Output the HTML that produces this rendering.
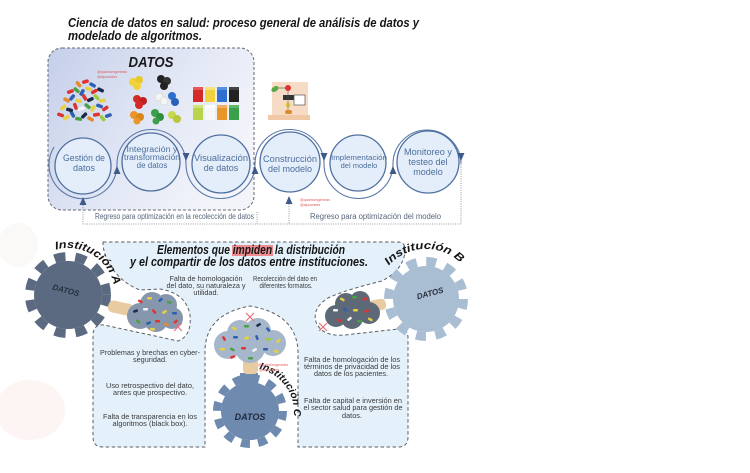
<!DOCTYPE html>
<html>
<head>
<meta charset="utf-8">
<style>
  html,body{margin:0;padding:0;background:#fff;}
  body{width:750px;height:473px;overflow:hidden;}
  svg{display:block;}
  .t{font-family:"Liberation Sans",sans-serif;}
  .bi{font-family:"Liberation Sans",sans-serif;font-weight:bold;font-style:italic;}
  .cir{font-family:"Liberation Sans",sans-serif;fill:#4d6e9c;text-anchor:middle;}
  .body{font-family:"Liberation Sans",sans-serif;fill:#3a3a3a;text-anchor:middle;font-size:7.3px;}
  .wm{font-family:"Liberation Sans",sans-serif;fill:#e25a5a;font-size:3.6px;}
</style>
</head>
<body>
<svg width="750" height="473" viewBox="0 0 750 473" xmlns="http://www.w3.org/2000/svg">
  <defs>
    <linearGradient id="gd" x1="0" y1="0" x2="1" y2="0.5">
      <stop offset="0" stop-color="#c4cfea"/>
      <stop offset="0.6" stop-color="#e3e8f5"/>
      <stop offset="1" stop-color="#f2f4fa"/>
    </linearGradient>
    <path id="arcA" d="M 55.8,249.6 A 47 47 0 0 1 114.3,286.8"/>
    <path id="arcB" d="M 388.8,265.5 A 50 50 0 0 1 463.2,265.5"/>
    <path id="arcC" d="M 259.2,369 A 44 44 0 0 1 293.8,415.8"/>
  </defs>

  <!-- faint background watermarks -->
  <ellipse cx="30" cy="410" rx="35" ry="30" fill="#fdf4f4"/>
  <ellipse cx="18" cy="245" rx="20" ry="22" fill="#fbf8f8"/>

  <!-- Title -->
  <text class="bi" x="68" y="27" font-size="12.5" fill="#151515" textLength="351" lengthAdjust="spacingAndGlyphs">Ciencia de datos en salud: proceso general de análisis de datos y</text>
  <text class="bi" x="68" y="40" font-size="12.5" fill="#151515" textLength="134" lengthAdjust="spacingAndGlyphs">modelado de algoritmos.</text>

  <!-- DATOS box -->
  <rect x="48" y="48" width="206" height="162" rx="14" fill="url(#gd)" stroke="#6a6a70" stroke-width="1" stroke-dasharray="3 2"/>
  <text class="bi" x="151" y="67" font-size="15" fill="#1a1a1a" text-anchor="middle" textLength="45" lengthAdjust="spacingAndGlyphs">DATOS</text>
  <text class="wm" x="97" y="73">@quantumgenesis</text>
  <text class="wm" x="97" y="78">@alpocrates</text>

  <!-- bead pile -->
  <g>
    <rect x="57" y="113" width="7" height="3.5" rx="1.5" fill="#d33" transform="rotate(20 60 115)"/>
    <rect x="63" y="116" width="7" height="3.5" rx="1.5" fill="#e8d040" transform="rotate(-30 66 118)"/>
    <rect x="69" y="112" width="7" height="3.5" rx="1.5" fill="#2e5fb0" transform="rotate(60 72 114)"/>
    <rect x="75" y="117" width="7" height="3.5" rx="1.5" fill="#4aa043" transform="rotate(10 78 119)"/>
    <rect x="81" y="114" width="7" height="3.5" rx="1.5" fill="#1c2a4a" transform="rotate(-45 84 116)"/>
    <rect x="87" y="117" width="7" height="3.5" rx="1.5" fill="#e58a2a" transform="rotate(30 90 119)"/>
    <rect x="93" y="113" width="7" height="3.5" rx="1.5" fill="#d33" transform="rotate(-10 96 115)"/>
    <rect x="99" y="116" width="7" height="3.5" rx="1.5" fill="#9ccc3c" transform="rotate(50 102 118)"/>
    <rect x="105" y="114" width="7" height="3.5" rx="1.5" fill="#2e5fb0" transform="rotate(-20 108 116)"/>
    <rect x="60" y="106" width="7" height="3.5" rx="1.5" fill="#e8d040" transform="rotate(-40 63 108)"/>
    <rect x="66" y="108" width="7" height="3.5" rx="1.5" fill="#1c2a4a" transform="rotate(15 69 110)"/>
    <rect x="72" y="104" width="7" height="3.5" rx="1.5" fill="#d33" transform="rotate(70 75 106)"/>
    <rect x="78" y="107" width="7" height="3.5" rx="1.5" fill="#f4f4f4" transform="rotate(-15 81 109)"/>
    <rect x="84" y="104" width="7" height="3.5" rx="1.5" fill="#4aa043" transform="rotate(40 87 106)"/>
    <rect x="90" y="107" width="7" height="3.5" rx="1.5" fill="#e8d040" transform="rotate(-60 93 109)"/>
    <rect x="96" y="104" width="7" height="3.5" rx="1.5" fill="#2e5fb0" transform="rotate(20 99 106)"/>
    <rect x="102" y="107" width="7" height="3.5" rx="1.5" fill="#d33" transform="rotate(-35 105 109)"/>
    <rect x="63" y="98" width="7" height="3.5" rx="1.5" fill="#e58a2a" transform="rotate(30 66 100)"/>
    <rect x="69" y="96" width="7" height="3.5" rx="1.5" fill="#2e5fb0" transform="rotate(-50 72 98)"/>
    <rect x="75" y="99" width="7" height="3.5" rx="1.5" fill="#e8d040" transform="rotate(10 78 101)"/>
    <rect x="81" y="95" width="7" height="3.5" rx="1.5" fill="#d33" transform="rotate(60 84 97)"/>
    <rect x="87" y="98" width="7" height="3.5" rx="1.5" fill="#1c2a4a" transform="rotate(-25 90 100)"/>
    <rect x="93" y="95" width="7" height="3.5" rx="1.5" fill="#9ccc3c" transform="rotate(45 96 97)"/>
    <rect x="99" y="99" width="7" height="3.5" rx="1.5" fill="#e8d040" transform="rotate(-10 102 101)"/>
    <rect x="67" y="90" width="7" height="3.5" rx="1.5" fill="#d33" transform="rotate(-20 70 92)"/>
    <rect x="73" y="88" width="7" height="3.5" rx="1.5" fill="#4aa043" transform="rotate(40 76 90)"/>
    <rect x="79" y="91" width="7" height="3.5" rx="1.5" fill="#2e5fb0" transform="rotate(-60 82 93)"/>
    <rect x="85" y="87" width="7" height="3.5" rx="1.5" fill="#e8d040" transform="rotate(15 88 89)"/>
    <rect x="91" y="90" width="7" height="3.5" rx="1.5" fill="#d33" transform="rotate(-30 94 92)"/>
    <rect x="97" y="88" width="7" height="3.5" rx="1.5" fill="#1c2a4a" transform="rotate(25 100 90)"/>
    <rect x="75" y="82" width="7" height="3.5" rx="1.5" fill="#e58a2a" transform="rotate(50 78 84)"/>
    <rect x="82" y="80" width="7" height="3.5" rx="1.5" fill="#d33" transform="rotate(-15 85 82)"/>
    <rect x="89" y="83" width="7" height="3.5" rx="1.5" fill="#2e5fb0" transform="rotate(30 92 85)"/>
  </g>

  <!-- meeple pieces -->
  <g>
    <circle cx="133" cy="82" r="4" fill="#f0d23a"/><circle cx="139" cy="80" r="4" fill="#e8c82c"/><circle cx="137" cy="86" r="4" fill="#f0d23a"/>
    <circle cx="161" cy="79" r="4" fill="#222"/><circle cx="167" cy="81" r="4" fill="#333"/><circle cx="164" cy="86" r="4" fill="#222"/>
    <circle cx="137" cy="99" r="4" fill="#d42a2a"/><circle cx="143" cy="101" r="4" fill="#c02020"/><circle cx="139" cy="105" r="4" fill="#d42a2a"/>
    <circle cx="159" cy="97" r="4" fill="#f4f4f4" stroke="#ccc" stroke-width="0.5"/><circle cx="164" cy="101" r="4" fill="#f4f4f4" stroke="#ccc" stroke-width="0.5"/>
    <circle cx="172" cy="96" r="4" fill="#2f6fd0"/><circle cx="175" cy="102" r="4" fill="#2a60b8"/>
    <circle cx="134" cy="115" r="4" fill="#e8962a"/><circle cx="140" cy="117" r="4" fill="#d8861c"/><circle cx="137" cy="121" r="3.5" fill="#e8962a"/>
    <circle cx="155" cy="113" r="4" fill="#3ca04a"/><circle cx="160" cy="117" r="4" fill="#2f8f3c"/><circle cx="156" cy="121" r="3.5" fill="#3ca04a"/>
    <circle cx="172" cy="115" r="4" fill="#c9d84a"/><circle cx="177" cy="119" r="4" fill="#b8c83a"/>
  </g>

  <!-- blocks -->
  <g>
    <rect x="193" y="87" width="10" height="15" fill="#d42a2a"/><rect x="193" y="87" width="10" height="3" fill="#e85555"/>
    <rect x="205" y="87" width="10" height="15" fill="#f2d23a"/><rect x="205" y="87" width="10" height="3" fill="#f8e27a"/>
    <rect x="217" y="87" width="10" height="15" fill="#2f6fd0"/><rect x="217" y="87" width="10" height="3" fill="#5a90e0"/>
    <rect x="229" y="87" width="10" height="15" fill="#222"/><rect x="229" y="87" width="10" height="3" fill="#444"/>
    <rect x="193" y="105" width="10" height="15" fill="#b8d44a"/><rect x="193" y="105" width="10" height="3" fill="#d0e478"/>
    <rect x="205" y="105" width="10" height="15" fill="#f7f7f7"/><rect x="205" y="105" width="10" height="3" fill="#fff"/>
    <rect x="217" y="105" width="10" height="15" fill="#e8962a"/><rect x="217" y="105" width="10" height="3" fill="#f0b060"/>
    <rect x="229" y="105" width="10" height="15" fill="#3ca04a"/><rect x="229" y="105" width="10" height="3" fill="#60b86a"/>
  </g>

  <!-- flowchart icon -->
  <g>
    <rect x="272" y="82" width="36" height="33" fill="#f6dcc4"/>
    <rect x="268" y="115" width="42" height="5" fill="#f0c8a6"/>
    <ellipse cx="275" cy="89" rx="4" ry="2.5" fill="#5aa845" transform="rotate(-30 275 89)"/>
    <line x1="279" y1="88" x2="285" y2="88" stroke="#444" stroke-width="0.6"/>
    <circle cx="288" cy="88" r="3" fill="#d33"/>
    <rect x="283" y="95" width="11" height="5" fill="#333"/>
    <rect x="294" y="95" width="11" height="10" fill="#fff" stroke="#555" stroke-width="0.7"/>
    <circle cx="288" cy="105" r="2.5" fill="#e8d040"/>
    <rect x="285" y="110" width="7" height="4" rx="2" fill="#e08a2c"/>
    <line x1="288" y1="91" x2="288" y2="110" stroke="#555" stroke-width="0.5"/>
  </g>

  <!-- serpentine connector -->
  <path d="M 54,147 A 34 34 0 1 0 117,164 A 34.5 34.5 0 0 1 186,164 A 34.5 34.5 0 0 0 255,164 A 34.5 34.5 0 0 1 324,164 A 34.5 34.5 0 0 0 393,164 A 34 34 0 0 1 461,164" fill="none" stroke="#5a78a8" stroke-width="1.1"/>

  <!-- circles -->
  <g fill="#e4eefa" stroke="#5070a0" stroke-width="1.3">
    <circle cx="83" cy="166" r="28"/>
    <circle cx="151" cy="162" r="29"/>
    <circle cx="221" cy="164" r="29"/>
    <circle cx="290" cy="162" r="30"/>
    <circle cx="358" cy="163" r="28"/>
    <circle cx="428" cy="162" r="31"/>
  </g>
  <text class="cir" x="84" y="161" font-size="9" textLength="42" lengthAdjust="spacingAndGlyphs">Gestión de</text>
  <text class="cir" x="84" y="171" font-size="9">datos</text>
  <text class="cir" x="152" y="152" font-size="8" textLength="51" lengthAdjust="spacingAndGlyphs">Integración y</text>
  <text class="cir" x="152" y="160" font-size="8" textLength="56" lengthAdjust="spacingAndGlyphs">transformación</text>
  <text class="cir" x="152" y="168" font-size="8">de datos</text>
  <text class="cir" x="221" y="161" font-size="9" textLength="54" lengthAdjust="spacingAndGlyphs">Visualización</text>
  <text class="cir" x="221" y="171" font-size="9">de datos</text>
  <text class="cir" x="290" y="162" font-size="9" textLength="54" lengthAdjust="spacingAndGlyphs">Construcción</text>
  <text class="cir" x="290" y="172" font-size="9">del modelo</text>
  <text class="cir" x="359" y="160" font-size="7.5" textLength="56" lengthAdjust="spacingAndGlyphs">Implementación</text>
  <text class="cir" x="359" y="168" font-size="7.5">del modelo</text>
  <text class="cir" x="428" y="155" font-size="9" textLength="48" lengthAdjust="spacingAndGlyphs">Monitoreo y</text>
  <text class="cir" x="428" y="165" font-size="9">testeo del</text>
  <text class="cir" x="428" y="175" font-size="9">modelo</text>

  <!-- arrowheads on serpentine -->
  <g fill="#3d5a8a">
    <polygon points="113.5,174 120.5,174 117,166"/>
    <polygon points="251.5,174 258.5,174 255,166"/>
    <polygon points="389.5,174 396.5,174 393,166"/>
    <polygon points="182.5,153 189.5,153 186,161"/>
    <polygon points="320.5,153 327.5,153 324,161"/>
    <polygon points="457.5,153 464.5,153 461,161"/>
    <polygon points="79.5,205 86.5,205 83,197"/>
    <polygon points="285.5,204 292.5,204 289,196"/>
  </g>

  <!-- dotted return lines -->
  <g fill="none" stroke="#7a7f88" stroke-width="0.8" stroke-dasharray="1 1.3">
    <path d="M 83,205 L 83,224 L 461,224 L 461,161"/>
    <path d="M 289,204 L 289,224"/>
    <path d="M 257,212 L 257,224"/>
  </g>
  <text class="t" x="95" y="219" font-size="8" fill="#56657a" textLength="159" lengthAdjust="spacingAndGlyphs">Regreso para optimización en la recolección de datos</text>
  <text class="t" x="310" y="219" font-size="8" fill="#56657a" textLength="131" lengthAdjust="spacingAndGlyphs">Regreso para optimización del modelo</text>
  <text class="wm" x="300" y="201">@quantumgenesis</text>
  <text class="wm" x="300" y="206">@alpocrates</text>

  <!-- lower blue region -->
  <path d="M 103,242 L 398,242 Q 406,242 405,252 Q 403,270 382,281 Q 345,290 328,298 Q 312,308 316,322 Q 322,337 345,335 L 398,329 Q 408,328 408,338 L 408,437 Q 408,447 398,447 L 298,447 L 298,352 Q 297,314 250,306 Q 206,314 205,350 L 205,447 L 103,447 Q 93,447 93,437 L 93,334 Q 94,324 104,325 L 178,341 Q 192,336 190,315 Q 186,293 160,289 L 140,290 Q 122,283 112,268 Q 103,255 103,242 Z" fill="#e4f1fb" stroke="#5c5f66" stroke-width="1" stroke-dasharray="3.5 2.5"/>

  <!-- Elementos title -->
  <rect x="232" y="245" width="41" height="11" fill="#ef8c8f"/>
  <text class="bi" x="157" y="254" font-size="12.5" fill="#151515" textLength="188" lengthAdjust="spacingAndGlyphs">Elementos que impiden la distribución</text>
  <text class="bi" x="130" y="266" font-size="12.5" fill="#151515" textLength="238" lengthAdjust="spacingAndGlyphs">y el compartir de los datos entre instituciones.</text>

  <text class="body" x="206" y="281" textLength="73" lengthAdjust="spacingAndGlyphs">Falta de homologación</text>
  <text class="body" x="206" y="288" textLength="79" lengthAdjust="spacingAndGlyphs">del dato, su naturaleza y</text>
  <text class="body" x="206" y="295">utilidad.</text>
  <text class="body" x="285" y="281" textLength="64" lengthAdjust="spacingAndGlyphs">Recolección del dato en</text>
  <text class="body" x="286" y="288" textLength="53" lengthAdjust="spacingAndGlyphs">diferentes formatos.</text>

  <text class="body" x="150" y="355" textLength="100" lengthAdjust="spacingAndGlyphs">Problemas y brechas en cyber-</text>
  <text class="body" x="150" y="362">seguridad.</text>
  <text class="body" x="150" y="388" textLength="88" lengthAdjust="spacingAndGlyphs">Uso retrospectivo del dato,</text>
  <text class="body" x="150" y="395" textLength="74" lengthAdjust="spacingAndGlyphs">antes que prospectivo.</text>
  <text class="body" x="150" y="419" textLength="94" lengthAdjust="spacingAndGlyphs">Falta de transparencia en los</text>
  <text class="body" x="150" y="426" textLength="75" lengthAdjust="spacingAndGlyphs">algoritmos (black box).</text>

  <text class="body" x="352" y="362" textLength="96" lengthAdjust="spacingAndGlyphs">Falta de homologación de los</text>
  <text class="body" x="352" y="369" textLength="96" lengthAdjust="spacingAndGlyphs">términos de privacidad de los</text>
  <text class="body" x="351" y="376" textLength="74" lengthAdjust="spacingAndGlyphs">datos de los pacientes.</text>
  <text class="body" x="353" y="403" textLength="98" lengthAdjust="spacingAndGlyphs">Falta de capital e inversión en</text>
  <text class="body" x="353" y="410" textLength="99" lengthAdjust="spacingAndGlyphs">el sector salud para gestión de</text>
  <text class="body" x="352" y="418">datos.</text>

  <!-- Gear A -->
  <g fill="#5b6a80">
    <circle cx="68" cy="295" r="34"/>
    <circle cx="68" cy="295" r="38.5" fill="none" stroke="#5b6a80" stroke-width="9" stroke-dasharray="11 9.94"/>
  </g>
  <text class="bi" x="66" y="293" font-size="8" fill="#27303e" text-anchor="middle" transform="rotate(15 66 290)">DATOS</text>
  <text class="bi" font-size="11" fill="#151515"><textPath href="#arcA" textLength="76" lengthAdjust="spacingAndGlyphs">Institución A</textPath></text>
  <!-- hand A -->
  <rect x="108" y="302" width="26" height="12" rx="5" fill="#e8cba0" transform="rotate(12 120 308)"/>
  <!-- Cloud A -->
  <g fill="#8696ad">
    <circle cx="140" cy="316" r="13"/>
    <circle cx="152" cy="304" r="12"/>
    <circle cx="166" cy="305" r="11"/>
    <circle cx="172" cy="318" r="11"/>
    <circle cx="156" cy="320" r="12"/>
  </g>
  <g>
    <rect x="138" y="300" width="5" height="2.5" rx="1" fill="#d33" transform="rotate(30 140 301)"/>
    <rect x="147" y="297" width="5" height="2.5" rx="1" fill="#e8d040"/>
    <rect x="158" y="299" width="5" height="2.5" rx="1" fill="#2e5fb0" transform="rotate(-40 160 300)"/>
    <rect x="167" y="301" width="5" height="2.5" rx="1" fill="#4aa043" transform="rotate(20 169 302)"/>
    <rect x="133" y="310" width="5" height="2.5" rx="1" fill="#1c2a4a" transform="rotate(-20 135 311)"/>
    <rect x="143" y="308" width="5" height="2.5" rx="1" fill="#f4f4f4"/>
    <rect x="152" y="310" width="5" height="2.5" rx="1" fill="#d33" transform="rotate(50 154 311)"/>
    <rect x="162" y="311" width="5" height="2.5" rx="1" fill="#e8d040" transform="rotate(-30 164 312)"/>
    <rect x="172" y="312" width="5" height="2.5" rx="1" fill="#2e5fb0"/>
    <rect x="136" y="320" width="5" height="2.5" rx="1" fill="#4aa043" transform="rotate(40 138 321)"/>
    <rect x="146" y="322" width="5" height="2.5" rx="1" fill="#2e5fb0" transform="rotate(-20 148 323)"/>
    <rect x="155" y="320" width="5" height="2.5" rx="1" fill="#d33"/>
    <rect x="164" y="323" width="5" height="2.5" rx="1" fill="#e58a2a" transform="rotate(25 166 324)"/>
    <rect x="173" y="321" width="5" height="2.5" rx="1" fill="#d33" transform="rotate(-45 175 322)"/>
    <rect x="150" y="328" width="5" height="2.5" rx="1" fill="#e8d040"/>
  </g>
  <g stroke="#e8707a" stroke-width="1.2"><line x1="174" y1="323" x2="182" y2="331"/><line x1="182" y1="323" x2="174" y2="331"/></g>

  <!-- Gear B -->
  <g fill="#a9bdd3">
    <circle cx="426" cy="299" r="33"/>
    <circle cx="426" cy="299" r="37.5" fill="none" stroke="#a9bdd3" stroke-width="9" stroke-dasharray="10 9.63"/>
  </g>
  <text class="bi" x="430" y="296" font-size="8" fill="#2a2f38" text-anchor="middle" transform="rotate(-15 430 293)">DATOS</text>
  <text class="bi" font-size="11" fill="#151515"><textPath href="#arcB" textLength="80" lengthAdjust="spacingAndGlyphs">Institución B</textPath></text>
  <!-- hand B -->
  <rect x="364" y="300" width="22" height="11" rx="4" fill="#e8cba0" transform="rotate(-10 375 306)"/>
  <!-- Cloud B -->
  <g fill="#5d6976">
    <circle cx="336" cy="316" r="11"/>
    <circle cx="346" cy="304" r="11"/>
    <circle cx="360" cy="301" r="10"/>
    <circle cx="369" cy="313" r="11"/>
    <circle cx="352" cy="318" r="11"/>
  </g>
  <g>
    <rect x="340" y="298" width="5" height="2.5" rx="1" fill="#e8d040" transform="rotate(30 342 299)"/>
    <rect x="352" y="296" width="5" height="2.5" rx="1" fill="#4aa043"/>
    <rect x="362" y="298" width="5" height="2.5" rx="1" fill="#d33" transform="rotate(-30 364 299)"/>
    <rect x="333" y="309" width="5" height="2.5" rx="1" fill="#f4f4f4"/>
    <rect x="343" y="308" width="5" height="2.5" rx="1" fill="#2e5fb0" transform="rotate(45 345 309)"/>
    <rect x="353" y="309" width="5" height="2.5" rx="1" fill="#e8d040"/>
    <rect x="364" y="310" width="5" height="2.5" rx="1" fill="#d33" transform="rotate(-20 366 311)"/>
    <rect x="337" y="319" width="5" height="2.5" rx="1" fill="#d33" transform="rotate(20 339 320)"/>
    <rect x="347" y="318" width="5" height="2.5" rx="1" fill="#f4f4f4" transform="rotate(-40 349 319)"/>
    <rect x="357" y="320" width="5" height="2.5" rx="1" fill="#4aa043"/>
    <rect x="368" y="318" width="5" height="2.5" rx="1" fill="#e8d040" transform="rotate(30 370 319)"/>
  </g>
  <g stroke="#e8707a" stroke-width="1.2"><line x1="319" y1="323" x2="327" y2="331"/><line x1="327" y1="323" x2="319" y2="331"/></g>

  <!-- Gear C -->
  <g fill="#6f8aaf">
    <circle cx="250" cy="411" r="29"/>
    <circle cx="250" cy="411" r="33" fill="none" stroke="#6f8aaf" stroke-width="8" stroke-dasharray="9 8.28"/>
    <rect x="240" y="373" width="18" height="18"/>
  </g>
  <text class="bi" x="250" y="420" font-size="9" fill="#1f2a3d" text-anchor="middle">DATOS</text>
  <text class="bi" font-size="10" fill="#151515"><textPath href="#arcC" textLength="64" lengthAdjust="spacingAndGlyphs">Institución C</textPath></text>
  <!-- hand C -->
  <rect x="243" y="358" width="15" height="16" rx="4" fill="#e8cba0"/>
  <!-- Cloud C -->
  <g fill="#a6b7cb">
    <circle cx="228" cy="345" r="14"/>
    <circle cx="240" cy="333" r="13"/>
    <circle cx="258" cy="331" r="13"/>
    <circle cx="273" cy="343" r="13"/>
    <circle cx="250" cy="348" r="15"/>
  </g>
  <g>
    <rect x="232" y="327" width="5" height="2.5" rx="1" fill="#e8d040" transform="rotate(30 234 328)"/>
    <rect x="244" y="325" width="5" height="2.5" rx="1" fill="#4aa043"/>
    <rect x="256" y="324" width="5" height="2.5" rx="1" fill="#1c2a4a" transform="rotate(-30 258 325)"/>
    <rect x="266" y="328" width="5" height="2.5" rx="1" fill="#2e5fb0" transform="rotate(50 268 329)"/>
    <rect x="222" y="337" width="5" height="2.5" rx="1" fill="#d33" transform="rotate(60 224 338)"/>
    <rect x="233" y="336" width="5" height="2.5" rx="1" fill="#2e5fb0"/>
    <rect x="244" y="337" width="5" height="2.5" rx="1" fill="#e8d040" transform="rotate(-20 246 338)"/>
    <rect x="255" y="336" width="5" height="2.5" rx="1" fill="#2e5fb0" transform="rotate(70 257 337)"/>
    <rect x="266" y="338" width="5" height="2.5" rx="1" fill="#9ccc3c"/>
    <rect x="276" y="340" width="5" height="2.5" rx="1" fill="#e8d040" transform="rotate(-40 278 341)"/>
    <rect x="220" y="348" width="5" height="2.5" rx="1" fill="#e8d040"/>
    <rect x="230" y="348" width="5" height="2.5" rx="1" fill="#4aa043" transform="rotate(30 232 349)"/>
    <rect x="241" y="347" width="5" height="2.5" rx="1" fill="#d33"/>
    <rect x="252" y="349" width="5" height="2.5" rx="1" fill="#f4f4f4" transform="rotate(-30 254 350)"/>
    <rect x="263" y="348" width="5" height="2.5" rx="1" fill="#2e5fb0"/>
    <rect x="274" y="350" width="5" height="2.5" rx="1" fill="#e8d040" transform="rotate(20 276 351)"/>
    <rect x="230" y="356" width="5" height="2.5" rx="1" fill="#d33" transform="rotate(-20 232 357)"/>
    <rect x="248" y="357" width="5" height="2.5" rx="1" fill="#4aa043"/>
  </g>
  <g stroke="#e8707a" stroke-width="1.2"><line x1="246" y1="313" x2="254" y2="321"/><line x1="254" y1="313" x2="246" y2="321"/></g>
  <text class="wm" x="258" y="366">@quantumgenesis</text>
  <text class="wm" x="259" y="371">@alpocrates</text>
</svg>
</body>
</html>
